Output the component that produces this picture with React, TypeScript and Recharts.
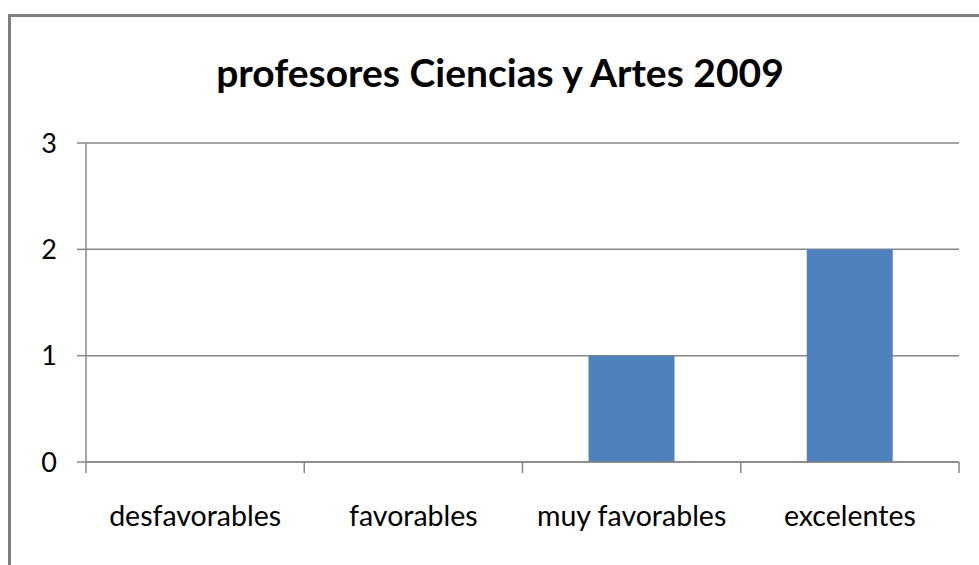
import React from "react"
import { BarChart, Bar, XAxis, YAxis, CartesianGrid } from "recharts"

const categories = ["desfavorables", "favorables", "muy favorables", "excelentes"]
const profesores = [0, 0, 1, 2]
const yTicks = [0, 1, 2, 3]

const data = categories.map((c, i) => ({ categoria: c, profesores: profesores[i] }))

const FONT = "Lato, 'Open Sans', sans-serif"
const GRAY = "#868686"
const X_TICK_SIZE = 10
const X_TICK_MARGIN = 34

// Excel-style axis: tick marks sit between categories, labels in the middle
const CategoryTick = (props: any) => {
  const { x, y, payload, index, visibleTicksCount } = props
  const half = payload.offset || 0
  const axisY = y - X_TICK_SIZE - X_TICK_MARGIN
  const last = index === visibleTicksCount - 1
  return (
    <g>
      <line x1={x - half} x2={x - half} y1={axisY} y2={axisY + 11} stroke={GRAY} strokeWidth={1.5} />
      {last && <line x1={x + half} x2={x + half} y1={axisY} y2={axisY + 11} stroke={GRAY} strokeWidth={1.5} />}
      <text x={x} y={y} dy="0.71em" textAnchor="middle" fill="#000" fontSize={28.5} fontFamily={FONT}>
        {payload.value}
      </text>
    </g>
  )
}

export default function App() {
  return (
    <div style={{ position: "fixed", left: 0, top: 0, width: 979, height: 565, overflow: "hidden", background: "#fff" }}>
      <div
        style={{
          position: "absolute",
          left: 8,
          top: 14,
          width: 1100,
          height: 700,
          border: "3px solid #7f7f7f",
          boxSizing: "border-box",
        }}
      />
      <div
        style={{
          position: "absolute",
          left: 0,
          width: 1000,
          top: 50,
          textAlign: "center",
          fontFamily: FONT,
          fontWeight: 700,
          fontSize: 39,
          color: "#000",
          lineHeight: "44px",
          whiteSpace: "nowrap",
        }}
      >
        profesores Ciencias y Artes 2009
      </div>
      <div style={{ position: "absolute", left: 0, top: 0 }}>
        <BarChart
          width={979}
          height={565}
          data={data}
          margin={{ top: 143, right: 20, bottom: 0, left: 26 }}
        >
          <CartesianGrid horizontal vertical={false} stroke={GRAY} strokeWidth={1.5} />
          <XAxis
            dataKey="categoria"
            height={103}
            axisLine={{ stroke: GRAY, strokeWidth: 1.5 }}
            tickLine={false}
            tickSize={X_TICK_SIZE}
            tickMargin={X_TICK_MARGIN}
            interval={0}
            tick={<CategoryTick />}
          />
          <YAxis
            width={60}
            domain={[0, 3]}
            ticks={yTicks}
            axisLine={{ stroke: GRAY, strokeWidth: 1.5 }}
            tickLine={{ stroke: GRAY, strokeWidth: 1.5 }}
            tickSize={9}
            tickMargin={20}
            tick={{ fill: "#000", fontSize: 27, fontFamily: FONT }}
          />
          <Bar dataKey="profesores" fill="#4F81BD" barSize={86} isAnimationActive={false} />
        </BarChart>
      </div>
    </div>
  )
}
